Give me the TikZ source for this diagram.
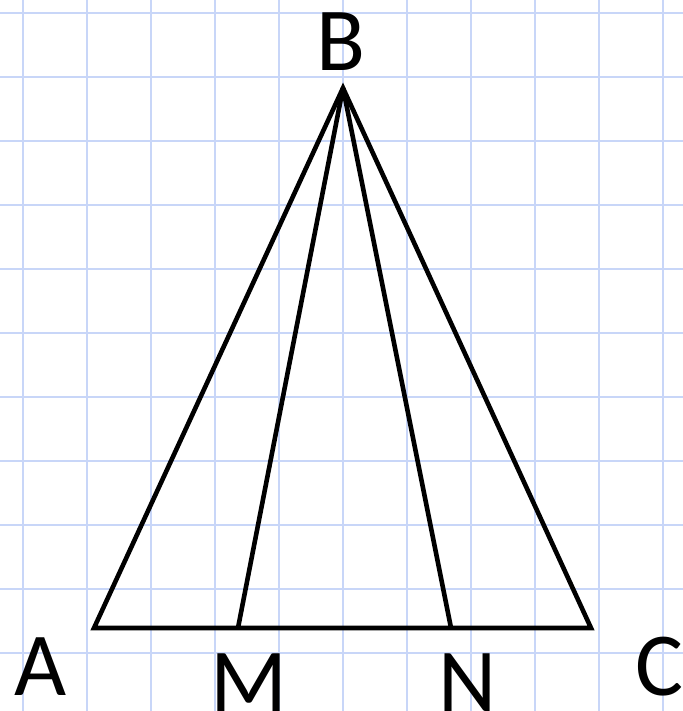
\documentclass[tikz,border=0pt]{standalone}
\usepackage{fontspec}
\setmainfont{Carlito}
\definecolor{gridblue}{RGB}{200,214,248}
\begin{document}
\begin{tikzpicture}[
    x=0.5pt,y=-0.5pt,
    gridline/.style={draw=gridblue,line width=1pt},
    side/.style={line width=2.3pt,line join=miter},
    lbl/.style={inner sep=0pt,anchor=base,font=\fontsize{45}{50}\selectfont}
  ]
    \useasboundingbox (0,0) rectangle (683,711);
    % squared paper
    \foreach \i in {0,...,10}
      \draw[gridline] ({22.6+64.03*\i},0) -- ++(0,711);
    \foreach \j in {0,...,10}
      \draw[gridline] (0,{12.7+64*\j}) -- ++(683,0);
    % points
    \coordinate (A) at (94,628);
    \coordinate (B) at (343,88);
    \coordinate (C) at (591,628);
    \coordinate (M) at (238,628);
    \coordinate (N) at (451,628);
    \draw[side] (A) -- (B) -- (C) -- cycle;
    \draw[side] (B) -- (M);
    \draw[side] (B) -- (N);
    % labels
    \node[lbl] (labB) at (341,71) {B};
    \node[lbl] (labA) at (41,695) {A};
    \node[lbl] (labM) at (249,711) {M};
    \node[lbl] (labN) at (468,711) {N};
    \node[lbl] (labC) at (659,695) {C};
  \end{tikzpicture}
\end{document}
